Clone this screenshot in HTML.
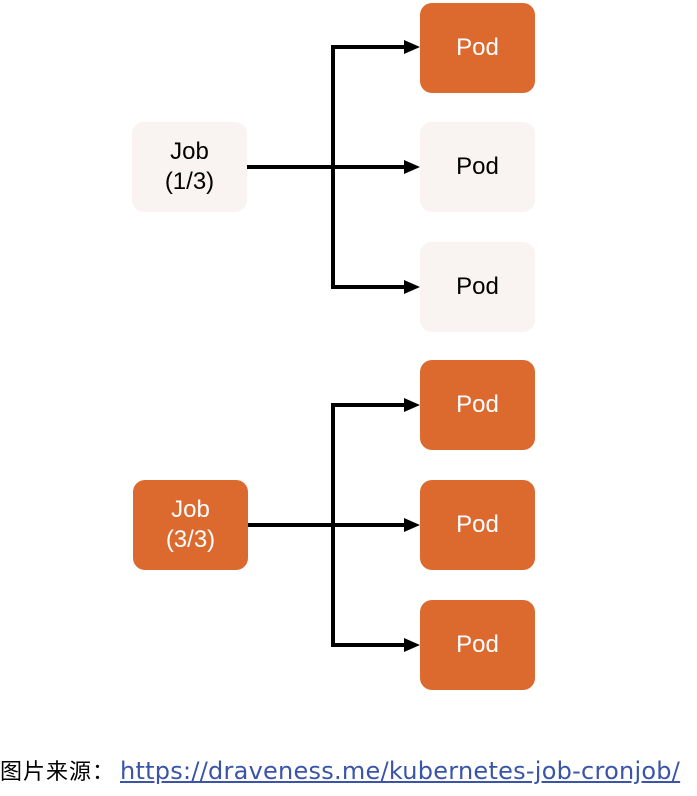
<!DOCTYPE html>
<html><head><meta charset="utf-8"><style>
body{margin:0;width:697px;height:796px;background:#fff;position:relative;overflow:hidden;font-family:"Liberation Sans","Noto Sans CJK SC",sans-serif}
.b{position:absolute;width:115px;height:90px;border-radius:12px;display:flex;align-items:center;justify-content:center;text-align:center;font-size:24px;line-height:30px}
.o{background:#dc6a2f;color:#fff}
.l{background:#f9f4f1;color:#000}
.cap{position:absolute;left:0;top:754px;font-size:24px;white-space:nowrap;font-family:"DejaVu Sans","Noto Sans CJK SC",sans-serif}
.cap span{display:inline-block;width:120px;font-size:22px;font-family:"Noto Sans CJK SC",sans-serif;letter-spacing:1px}
.cap a{color:#3a55a8;text-decoration:underline;letter-spacing:0.25px}
</style></head><body>
<svg width="697" height="796" style="position:absolute;left:0;top:0">
<g stroke="#000" stroke-width="4" fill="none">
<path d="M247,167H333"/>
<path d="M333,45V289"/>
<path d="M331,47H405"/>
<path d="M333,167H405"/>
<path d="M331,287H405"/>
<path d="M248,525H333"/>
<path d="M333,403V647"/>
<path d="M331,405H405"/>
<path d="M333,525H405"/>
<path d="M331,645H405"/>
</g>
<g fill="#000">
<path d="M404,40L420,47L404,54z"/>
<path d="M404,160L420,167L404,174z"/>
<path d="M404,280L420,287L404,294z"/>
<path d="M404,398L420,405L404,412z"/>
<path d="M404,518L420,525L404,532z"/>
<path d="M404,638L420,645L404,652z"/>
</g></svg>
<div class="b l" style="left:132px;top:122px">Job<br>(1/3)</div>
<div class="b o" style="left:420px;top:3px">Pod</div>
<div class="b l" style="left:420px;top:122px">Pod</div>
<div class="b l" style="left:420px;top:242px">Pod</div>
<div class="b o" style="left:133px;top:480px">Job<br>(3/3)</div>
<div class="b o" style="left:420px;top:360px">Pod</div>
<div class="b o" style="left:420px;top:480px">Pod</div>
<div class="b o" style="left:420px;top:600px">Pod</div>
<div class="cap"><span>图片来源：</span><a>https://draveness.me/kubernetes-job-cronjob/</a></div>
</body></html>
